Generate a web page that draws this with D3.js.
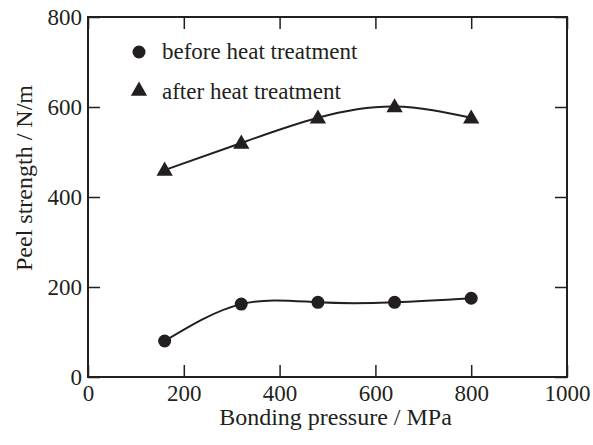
<!DOCTYPE html>
<html>
<head>
<meta charset="utf-8">
<script src="https://cdn.jsdelivr.net/npm/d3@7"></script>
<style>
  body { margin: 0; background: #fff; }
  svg text { font-family: "Liberation Serif"; fill: #231f20; }
</style>
</head>
<body>
<div id="chart"></div>
<script>
var pressure = [160, 320, 480, 640, 800];
var beforeHeat = [80, 162, 166, 166, 175];
var afterHeat = [460, 520, 576, 601, 576];
var xTicks = [0, 200, 400, 600, 800, 1000];
var yTicks = [0, 200, 400, 600, 800];

function drawChart(tag) {
  var margin = {top: 17, right: 26, bottom: 68, left: 88},
      width = 593 - margin.left - margin.right,
      height = 445 - margin.top - margin.bottom;
  var ink = "#231f20";
  var serif = "Liberation Serif";

  var svg = d3.select('#' + tag)
    .append("svg")
      .attr("width", 593)
      .attr("height", 445)
    .append("g")
      .attr("transform", "translate(" + margin.left + "," + margin.top + ")");

  var xaxis = d3.scaleLinear().domain([0, 1000]).range([0, width]);
  var yaxis = d3.scaleLinear().domain([0, 800]).range([height, 0]);

  // frame ticks, all pointing inward
  function styleAxis(g) {
    g.attr("font-family", serif).attr("font-size", 23);
    g.select(".domain").remove();
    g.selectAll(".tick line").attr("stroke", ink).attr("stroke-width", 1.5);
    g.selectAll(".tick text").attr("font-family", serif).attr("font-size", 23).attr("fill", ink);
  }
  svg.append("g")
    .attr("transform", "translate(0," + height + ")")
    .call(d3.axisBottom(xaxis).tickValues(xTicks).tickSize(-12).tickPadding(8).tickFormat(d3.format("d")))
    .call(styleAxis);
  svg.append("g")
    .call(d3.axisLeft(yaxis).tickValues(yTicks).tickSize(-12).tickPadding(6).tickFormat(d3.format("d")))
    .call(styleAxis);
  svg.append("g")
    .call(d3.axisTop(xaxis).tickValues(xTicks).tickSize(-12).tickFormat(""))
    .call(styleAxis);
  svg.append("g")
    .attr("transform", "translate(" + width + ",0)")
    .call(d3.axisRight(yaxis).tickValues(yTicks).tickSize(-12).tickFormat(""))
    .call(styleAxis);

  svg.append("rect")
    .attr("width", width).attr("height", height)
    .attr("fill", "none").attr("stroke", ink).attr("stroke-width", 2);

  var line = d3.line()
    .x(function(d) { return xaxis(d[0]); })
    .y(function(d) { return yaxis(d[1]); })
    .curve(d3.curveNatural);

  var before = pressure.map(function(p, i) { return [p, beforeHeat[i]]; });
  var after = pressure.map(function(p, i) { return [p, afterHeat[i]]; });

  [before, after].forEach(function(series) {
    svg.append("path")
      .datum(series)
      .attr("fill", "none")
      .attr("stroke", ink)
      .attr("stroke-width", 2)
      .attr("d", line);
  });

  svg.selectAll("circle.pt").data(before).enter()
    .append("circle")
      .attr("class", "pt")
      .attr("cx", function(d) { return xaxis(d[0]); })
      .attr("cy", function(d) { return yaxis(d[1]); })
      .attr("r", 6.5)
      .attr("fill", ink);

  var tri = d3.symbol().type(d3.symbolTriangle).size(115);
  svg.selectAll("path.tri").data(after).enter()
    .append("path")
      .attr("class", "tri")
      .attr("transform", function(d) { return "translate(" + xaxis(d[0]) + "," + (yaxis(d[1]) + 1) + ")"; })
      .attr("d", tri)
      .attr("fill", ink);

  // legend
  var leg = svg.append("g").attr("transform", "translate(51,35)")
    .attr("font-family", serif).attr("font-size", 23);
  leg.append("circle").attr("cx", 0).attr("cy", 0).attr("r", 6.5).attr("fill", ink);
  leg.append("text").attr("x", 23).attr("y", 7).text("before heat treatment");
  leg.append("path").attr("transform", "translate(0,39)").attr("d", tri).attr("fill", ink);
  leg.append("text").attr("x", 23).attr("y", 47).text("after heat treatment");

  // axis titles
  svg.append("text")
    .attr("x", width / 2 + 8).attr("y", height + 48)
    .attr("text-anchor", "middle")
    .attr("font-family", serif).attr("font-size", 24)
    .text("Bonding pressure / MPa");
  svg.append("text")
    .attr("transform", "translate(-56," + (height / 2 - 19) + ") rotate(-90)")
    .attr("text-anchor", "middle")
    .attr("font-family", serif).attr("font-size", 24)
    .text("Peel strength / N/m");
}

drawChart('chart');
</script>
</body>
</html>
